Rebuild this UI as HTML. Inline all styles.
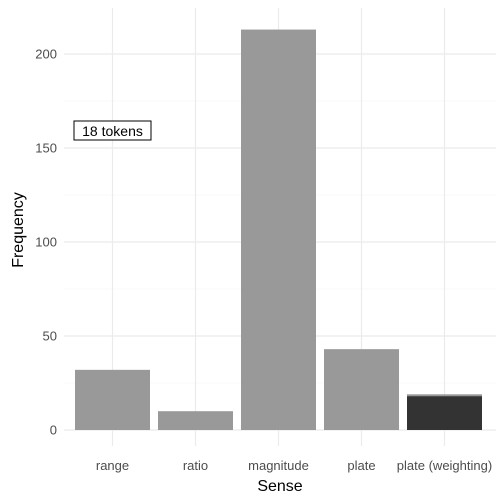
<!DOCTYPE html>
<html><head><meta charset="utf-8"><style>body{margin:0;background:#fff}svg{display:block;font-family:"Liberation Sans",sans-serif}</style></head>
<body>
<svg id="c" width="504" height="504"></svg>
<script>
const categories=["range","ratio","magnitude","plate","plate (weighting)"];
const lightValues=[32,10,213,43,1];
const darkValues=[0,0,0,0,18];
const yTicks=[0,50,100,150,200];
const yMinor=[25,75,125,175,225];
const ns="http://www.w3.org/2000/svg";
const svg=document.getElementById('c');
const L=64,R=496,T=8,B=446;
const y0=430,k=(430-54)/200;
const y=v=>y0-v*k;
const step=83,bw=75;
const x=i=>112.5+i*step;
function mk(t,a,p){const e=document.createElementNS(ns,t);for(const q in a)e.setAttribute(q,a[q]);(p||svg).appendChild(e);return e;}
yMinor.forEach(v=>{if(y(v)<T)return;const e=mk('line',{x1:L,x2:R,y1:y(v),y2:y(v),stroke:'#f2f2f2','stroke-width':0.6});

});
yTicks.forEach(v=>{const e=mk('line',{x1:L,x2:R,y1:y(v),y2:y(v),stroke:'#ebebeb','stroke-width':1.2});


const t=mk('text',{x:57,y:y(v)+4.5,'text-anchor':'end','font-size':13,fill:'#4d4d4d'});t.textContent=v;

});
categories.forEach((c,i)=>{const g=mk('line',{x1:x(i),x2:x(i),y1:T,y2:B,stroke:'#ebebeb','stroke-width':1.2});

});
categories.forEach((c,i)=>{
const tot=lightValues[i]+darkValues[i];
const b=mk('rect',{x:x(i)-bw/2,y:y(tot),width:bw,height:y(darkValues[i])-y(tot),fill:'#999999'});


if(darkValues[i]>0){const d=mk('rect',{x:x(i)-bw/2,y:y(darkValues[i]),width:bw,height:y0-y(darkValues[i]),fill:'#333333'});

}
const t=mk('text',{x:x(i),y:470,'text-anchor':'middle','font-size':13,fill:'#4d4d4d'});t.textContent=c;

});
</script>
<svg style="position:absolute;left:0;top:0" width="504" height="504">
<rect x="74" y="121" width="77" height="19" fill="#fff" stroke="#000" stroke-width="1"/>
<text x="112.5" y="136" text-anchor="middle" font-size="14" font-family="Liberation Sans,sans-serif">18 tokens</text>
<text x="280" y="491" text-anchor="middle" font-size="16" font-family="Liberation Sans,sans-serif">Sense</text>
<text transform="translate(23,230) rotate(-90)" text-anchor="middle" font-size="16" font-family="Liberation Sans,sans-serif">Frequency</text>
</svg>
</body></html>
